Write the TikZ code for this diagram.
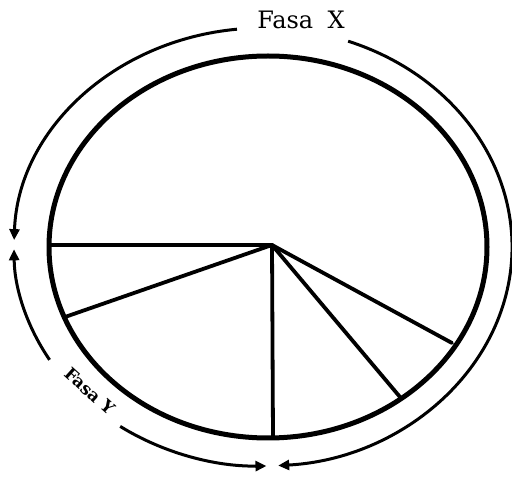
\documentclass[tikz,border=0pt]{standalone}
\usetikzlibrary{arrows.meta}
\usepackage{fontspec}
\newfontfamily\dvs{DejaVu Serif}
\begin{document}
\begin{tikzpicture}[x=1pt,y=1pt,
  rim/.style={line width=5pt},
  spoke/.style={line width=3.8pt},
  phase/.style={line width=3pt},
  tip/.style={-{Triangle[length=11pt,width=10pt]}},
  revtip/.style={{Triangle[length=11pt,width=10pt]}-}]
\useasboundingbox (0,0) rectangle (512,477);
\coordinate (C) at (268,230);
\coordinate (O) at (263,230);
\coordinate (H) at (272,232);
\coordinate (P1) at (49,232);
\coordinate (P2) at (65,160);
\coordinate (P3) at (273,40);
\coordinate (P4) at (400,80);
\coordinate (P5) at (452,134);
\draw[rim] (C) ellipse [x radius=219, y radius=191];
\foreach \p in {P1,P2,P3,P4,P5} \draw[spoke, line cap=round] (H) -- (\p);
% Fasa X arcs
\draw[phase,tip] (O) ++(96:249 and 219) arc[start angle=96, end angle=178.2, x radius=249, y radius=219];
\draw[phase,tip] (O) ++(70:249 and 219) arc[start angle=70, end angle=-86.5, x radius=249, y radius=219];
% Fasa Y arcs
\draw[phase,revtip] (O) ++(180.6:249 and 219) arc[start angle=180.6, end angle=211, x radius=249, y radius=219];
\draw[phase,tip] (O) ++(235:249 and 219) arc[start angle=235, end angle=270.8, x radius=249, y radius=219];
\node (fx) at (301,457) {\dvs\fontsize{24}{24}\selectfont Fasa\hspace{0.6em}X};
\node[rotate=-42] (fy) at (90,86) {\dvs\bfseries\fontsize{17}{17}\selectfont Fasa Y};
\end{tikzpicture}
\end{document}
